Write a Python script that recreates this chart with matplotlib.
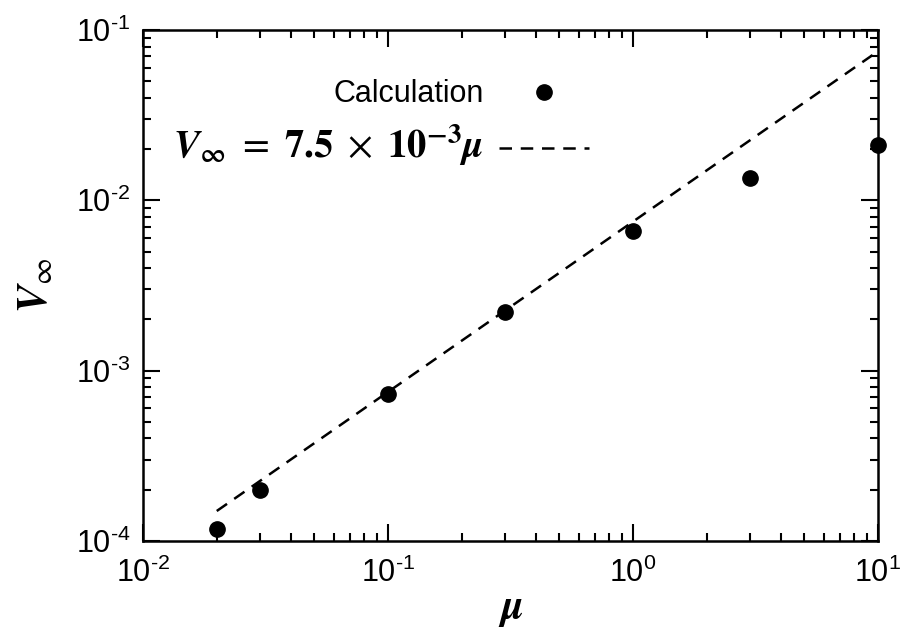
import matplotlib
matplotlib.use("Agg")
import matplotlib.pyplot as plt
from matplotlib.ticker import FuncFormatter
import numpy as np

# data
mu = [0.02, 0.03, 0.1, 0.3, 1.0, 3.0, 10.0]
v_inf = [1.18e-4, 2.0e-4, 7.3e-4, 2.2e-3, 6.6e-3, 1.36e-2, 2.11e-2]
fit_coef = 7.5e-3
fit_range = [0.02, 10.0]

plt.rcParams['font.family'] = ['Liberation Sans', 'DejaVu Sans']
plt.rcParams['mathtext.fontset'] = 'custom'
plt.rcParams['mathtext.rm'] = 'Liberation Sans'
plt.rcParams['mathtext.it'] = 'Liberation Sans:italic'
plt.rcParams['mathtext.bf'] = 'Liberation Sans:bold'


def pow_label(v, pos):
    e = int(round(np.log10(v)))
    if e < 0:
        return r'$\mathregular{10^{\text{-%d}}}$' % (-e)
    return r'$\mathregular{10^{%d}}$' % e


fig = plt.figure(figsize=(9.01, 6.28), dpi=100)
ax = fig.add_axes([143 / 901, 1 - 541 / 628, (878 - 143) / 901, (541 - 30) / 628])

ax.set_xscale('log')
ax.set_yscale('log')

fit_x = np.array(fit_range)
ax.plot(mu, v_inf, 'o', color='black', markersize=11, clip_on=False, zorder=5,
        label='Calculation')
ax.plot(fit_x, fit_coef * fit_x, '--', color='black', lw=1.8, dashes=(5, 3.5),
        label=r'$\mathbfit{V}_{\mathbf{\infty}}\ =\ \mathbf{7.5}\ \times\ \mathbf{10}^{\mathbf{-3}}\mathbfit{\mu}$')

ax.set_xlim(1e-2, 1e1)
ax.set_ylim(1e-4, 1e-1)
ax.xaxis.set_major_formatter(FuncFormatter(pow_label))
ax.yaxis.set_major_formatter(FuncFormatter(pow_label))

ax.tick_params(which='both', direction='in', top=True, right=True, labelsize=22,
               width=1.5)
ax.tick_params(axis='x', pad=12)
ax.tick_params(axis='y', pad=9)
ax.tick_params(which='major', length=12)
ax.tick_params(which='minor', length=6)
for s in ax.spines.values():
    s.set_linewidth(1.8)

xl = ax.set_xlabel(r'$\mathbfit{\mu}$', fontsize=30, labelpad=0)
xl.set_math_fontfamily('stix')
yl = ax.set_ylabel(r'$\mathbfit{V}_{\infty}$', fontsize=30, labelpad=14)
yl.set_math_fontfamily('stix')

leg = ax.legend(loc='upper left', bbox_to_anchor=(0.012, 0.945), frameon=False,
                markerfirst=False, fontsize=22, handlelength=2.95,
                labelspacing=0.45, handletextpad=0.5, borderpad=0.2)
texts = leg.get_texts()
texts[1].set_fontsize(28)
texts[1].set_math_fontfamily('stix')

fig.savefig('out.png', dpi=100)
